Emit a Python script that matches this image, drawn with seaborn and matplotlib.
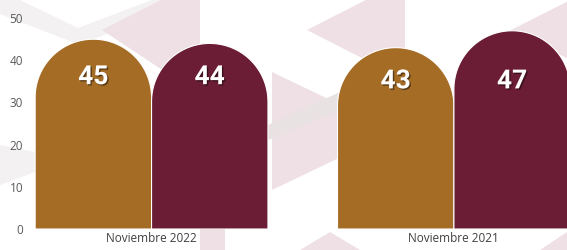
import numpy as np
import pandas as pd
import matplotlib
matplotlib.use('Agg')
import matplotlib.pyplot as plt
import matplotlib.patheffects as pe
from matplotlib.patches import Polygon
import seaborn as sns

# data
periodos = ['Noviembre 2022', 'Noviembre 2021']
series = ['Serie 1', 'Serie 2']
valores_serie1 = [45, 43]
valores_serie2 = [44, 47]
colores = ['#A56C25', '#6A1D34']

df = pd.DataFrame({
    'Periodo': periodos * 2,
    'Serie': [series[0]] * 2 + [series[1]] * 2,
    'Valor': valores_serie1 + valores_serie2,
})

sns.set_theme(style='white')
plt.rcParams['font.family'] = ['Open Sans', 'DejaVu Sans']

W, H = 567, 250
fig = plt.figure(figsize=(W / 100, H / 100), dpi=100)

# faint decorative background shapes (pixel coords, top-left origin)
def px(pts):
    return [(x / W, 1 - y / H) for x, y in pts]

fondo = [
    ([(0, 0), (0, 14), (80, 45), (200, -5), (165, -5), (78, 28), (20, 0)], '#F3F1F1'),
    ([(0, 145), (0, 185), (35, 172), (35, 152)], '#F3F1F1'),
    ([(102, 30), (200, -20), (200, 95)], '#EEE0E5'),
    ([(200, 95), (200, 250), (225, 250), (225, 110)], '#EEE0E5'),
    ([(307, 30), (405, -20), (405, 80)], '#EEE0E5'),
    ([(511, 30), (620, -25), (620, 85)], '#EEE0E5'),
    ([(272, 72), (272, 190), (395, 131)], '#EEE0E5'),
    ([(268, 125), (268, 140), (340, 110), (340, 92)], '#E8E2E2'),
    ([(300, 250), (330, 232), (360, 250)], '#EEE0E5'),
    ([(540, 250), (567, 232), (567, 250)], '#EEE0E5'),
]
for pts, c in fondo:
    fig.add_artist(Polygon(px(pts), closed=True, facecolor=c, edgecolor='none',
                           transform=fig.transFigure, zorder=-1))

ax = fig.add_axes([30 / W, 21 / H, 537 / W, 229 / H])
ax.patch.set_alpha(0)

sns.barplot(data=df, x='Periodo', y='Valor', hue='Serie', order=periodos,
            hue_order=series, palette=colores, width=0.77, legend=False,
            saturation=1, ax=ax)

ax.set_xlim(-0.402, 1.374)
ax.set_ylim(0, 54.3)
ax.set_yticks(range(0, 51, 10))
ax.tick_params(axis='y', length=0, pad=5, labelsize=8.5, labelcolor='#595959')
ax.tick_params(axis='x', length=0, pad=2, labelsize=8.5, labelcolor='#404040')
ax.set_xlabel('')
ax.set_ylabel('')
sns.despine(ax=ax, left=True, bottom=True)
ax.grid(False)

# turn the seaborn bars into round-topped arches
fig.canvas.draw()
bbox = ax.get_window_extent()
px_x = bbox.width / np.diff(ax.get_xlim())[0]
px_y = bbox.height / np.diff(ax.get_ylim())[0]
barras = [p for p in ax.patches if p.get_height() > 0]
for p in barras:
    x0, w, h = p.get_x(), p.get_width(), p.get_height()
    rx = w / 2
    ry = rx * px_x / px_y
    cx = x0 + rx
    t = np.linspace(0, np.pi, 80)
    arco = np.column_stack([cx + rx * np.cos(t), h - ry + ry * np.sin(t)])
    pts = np.vstack([[x0 + w, 0], arco, [x0, 0]])
    ax.add_patch(Polygon(pts, closed=True, facecolor=p.get_facecolor(),
                         edgecolor='white', linewidth=0.8, zorder=2))
    p.set_visible(False)

# value labels
sombra = [pe.withSimplePatchShadow(offset=(1, -1), shadow_rgbFace='black', alpha=0.45)]
for i, periodo in enumerate(periodos):
    pos_y = min(valores_serie1[i], valores_serie2[i]) - 8
    for j, vals in enumerate([valores_serie1, valores_serie2]):
        cx = i + (j - 0.5) * 0.385
        ax.text(cx, pos_y, str(vals[i]), ha='center', va='center', color='white',
                fontsize=19, fontweight='bold', family=['Roboto', 'DejaVu Sans'],
                path_effects=sombra, zorder=3)

fig.savefig('out.png', dpi=100)
